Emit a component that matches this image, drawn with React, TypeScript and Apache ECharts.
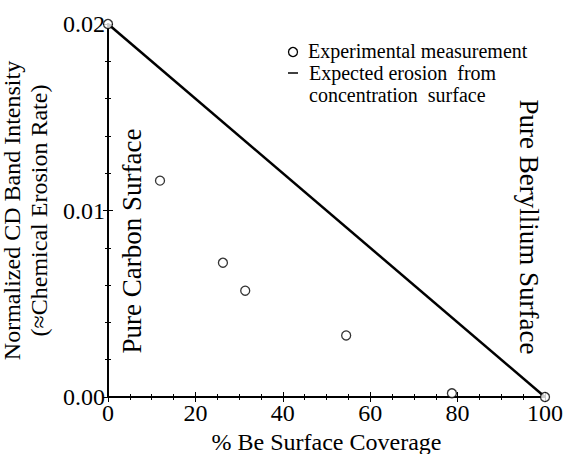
import React, { useEffect, useRef } from "react";
import * as echarts from "echarts";

const measuredX = [0, 11.9, 26.3, 31.4, 54.5, 78.7, 100];
const measuredY = [0.02, 0.0116, 0.0072, 0.0057, 0.0033, 0.0002, 0];
const expectedX = [0, 100];
const expectedY = [0.02, 0];
const xTicks = [0, 20, 40, 60, 80, 100];
const yTicks = ["0.00", "0.01", "0.02"];

const FONT = "'Liberation Serif', 'Times New Roman', serif";

export default function App() {
  const ref = useRef<HTMLDivElement>(null);
  useEffect(() => {
    if (!ref.current) return;
    const chart = echarts.init(ref.current, null, { renderer: "svg" });
    const axisCommon = {
      axisLine: { show: true, lineStyle: { color: "#000", width: 1.8 } },
      axisTick: { show: true, inside: true, length: 5, lineStyle: { color: "#000" } },
      splitLine: { show: false },
    };
    chart.setOption({
      animation: false,
      backgroundColor: "#fff",
      textStyle: { fontFamily: FONT },
      grid: { left: 108, right: 26, top: 24, bottom: 57, outerBoundsMode: "none", containLabel: false },
      xAxis: [
        {
          type: "value",
          min: 0,
          max: 100,
          interval: 20,
          ...axisCommon,
          minorTick: { show: true, splitNumber: 4, length: 3, lineStyle: { color: "#000" } },
          axisLabel: {
            color: "#000",
            fontFamily: FONT,
            fontSize: 24,
            margin: 4,
            formatter: (v: number) => (xTicks.includes(v) ? String(v) : ""),
          },
          name: "% Be Surface Coverage",
          nameLocation: "middle",
          nameGap: 29,
          nameTextStyle: { color: "#000", fontFamily: FONT, fontSize: 24, lineHeight: 25 },
        },
        {
          type: "value",
          position: "top",
          min: 0,
          max: 100,
          interval: 20,
          ...axisCommon,
          minorTick: { show: true, splitNumber: 4, length: 3, lineStyle: { color: "#000" } },
          axisLabel: { show: false },
        },
      ],
      yAxis: [
        {
          type: "value",
          min: 0,
          max: 0.02,
          interval: 0.01,
          ...axisCommon,
          minorTick: { show: true, splitNumber: 5, length: 3, lineStyle: { color: "#000" } },
          axisLabel: {
            color: "#000",
            fontFamily: FONT,
            fontSize: 24,
            margin: 3,
            formatter: (v: number) => yTicks[Math.round(v / 0.01)] ?? "",
          },
          name: "Normalized CD Band Intensity\n(\u2248Chemical Erosion Rate)",
          nameLocation: "middle",
          nameRotate: 90,
          nameGap: 45,
          nameTextStyle: { color: "#000", fontFamily: FONT, fontSize: 24, lineHeight: 27 },
        },
        {
          type: "value",
          position: "right",
          min: 0,
          max: 0.02,
          interval: 0.01,
          ...axisCommon,
          minorTick: { show: true, splitNumber: 5, length: 3, lineStyle: { color: "#000" } },
          axisLabel: { show: false },
        },
      ],
      series: [
        {
          type: "line",
          data: expectedX.map((x, i) => [x, expectedY[i]]),
          symbol: "none",
          lineStyle: { color: "#000", width: 2.5 },
          z: 2,
        },
        {
          type: "scatter",
          data: measuredX.map((x, i) => [x, measuredY[i]]),
          symbol: "circle",
          symbolSize: 9,
          itemStyle: { color: "#fff", borderColor: "#000", borderWidth: 1.3 },
          z: 3,
        },
      ],
      graphic: [
        { type: "circle", shape: { cx: 293, cy: 52, r: 4.5 }, style: { fill: "#fff", stroke: "#000", lineWidth: 1.3 } },
        { type: "text", x: 308, y: 51, style: { text: "Experimental measurement", font: `20px ${FONT}`, fill: "#000", verticalAlign: "middle" } },
        { type: "line", shape: { x1: 288, y1: 73, x2: 298, y2: 73 }, style: { stroke: "#000", lineWidth: 1.5 } },
        { type: "text", x: 309, y: 73, style: { text: "Expected erosion  from", font: `20px ${FONT}`, fill: "#000", verticalAlign: "middle" } },
        { type: "text", x: 309, y: 95, style: { text: "concentration  surface", font: `20px ${FONT}`, fill: "#000", verticalAlign: "middle" } },
        { type: "text", x: 132, y: 241, rotation: Math.PI / 2, style: { text: "Pure Carbon Surface", font: `27px ${FONT}`, fill: "#000", align: "center", verticalAlign: "middle" } },
        { type: "text", x: 529, y: 227, rotation: -Math.PI / 2, style: { text: "Pure Beryllium Surface", font: `27px ${FONT}`, fill: "#000", align: "center", verticalAlign: "middle" } },
      ],
    });
    return () => chart.dispose();
  }, []);
  return <div ref={ref} style={{ width: 571, height: 454, position: "absolute", left: 0, top: 0 }} />;
}
